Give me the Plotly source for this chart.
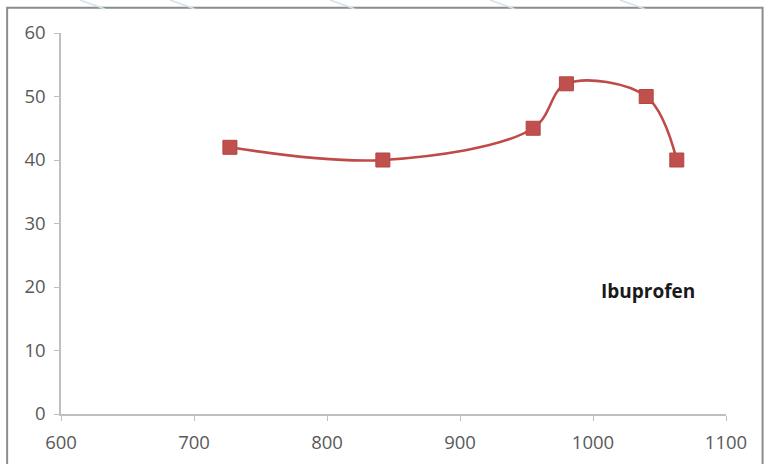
import plotly.graph_objects as go

# Ibuprofen curve
wavenumber = [727, 842, 955, 980, 1040, 1063]
response = [42, 40, 45, 52, 50, 40]

x_ticks = [600, 700, 800, 900, 1000, 1100]
y_ticks = [0, 10, 20, 30, 40, 50, 60]

series_color = "#BE4B48"
axis_color = "#BFBFBF"
tick_font = dict(family="'Open Sans', sans-serif", size=18.5, color="#595959")

fig = go.Figure()
fig.add_trace(go.Scatter(
    x=wavenumber, y=response,
    mode="lines+markers",
    line=dict(color=series_color, width=2.6, shape="spline", smoothing=1.0),
    marker=dict(symbol="square", size=14, color="#C0504D",
                line=dict(color="#B34643", width=1)),
    showlegend=False,
))

fig.add_annotation(
    x=1041, y=19.3, text="<b>Ibuprofen</b>", showarrow=False,
    font=dict(family="'Open Sans', sans-serif", size=19, color="#1a1a1a"),
)

# chart frame and faint decorative strokes around it
shapes = [
    dict(type="rect", xref="paper", yref="paper", x0=-0.081, x1=1.055,
         y0=-0.2, y1=1.066, line=dict(color="#8C8C8C", width=2), layer="below"),
]
for x0 in [80, 170, 330, 490, 620]:
    shapes.append(dict(type="line", xref="paper", yref="paper",
                       x0=(x0 - 61) / 665, x1=(x0 + 25 - 61) / 665,
                       y0=(414 - 0) / 381, y1=(414 - 9) / 381,
                       line=dict(color="#CFE3EC", width=1.5)))

fig.update_layout(
    width=769, height=464,
    margin=dict(l=61, r=43, t=33, b=50),
    paper_bgcolor="white", plot_bgcolor="white",
    shapes=shapes,
    xaxis=dict(range=[600, 1100], tickvals=x_ticks, showgrid=False, zeroline=False,
               showline=True, linecolor=axis_color, linewidth=1.5,
               ticks="outside", ticklen=5, tickcolor=axis_color,
               tickfont=tick_font, ticklabelstandoff=6, automargin=False),
    yaxis=dict(range=[0, 60], tickvals=y_ticks, showgrid=False, zeroline=False,
               showline=True, linecolor=axis_color, linewidth=1.5,
               ticks="outside", ticklen=5, tickcolor=axis_color,
               tickfont=tick_font, ticklabelstandoff=5, automargin=False),
)

fig.write_html("out.html")
